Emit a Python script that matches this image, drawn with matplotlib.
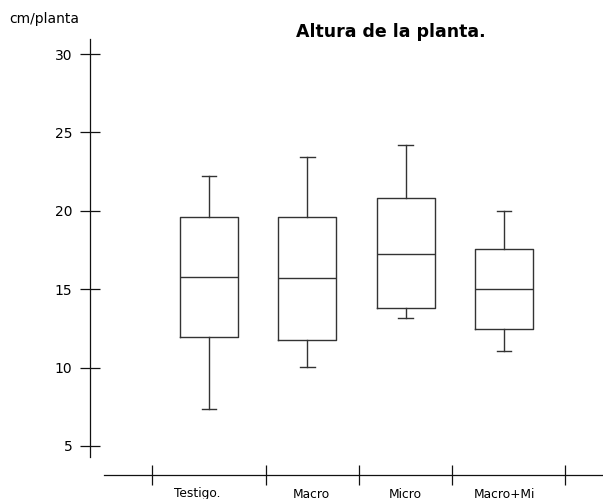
import matplotlib
matplotlib.use("Agg")
import matplotlib.pyplot as plt
import matplotlib.transforms as mtransforms

categories = ["Testigo.", "Macro", "Micro", "Macro+Mi"]
whisker_low = [7.34, 10.06, 13.14, 11.08]
q1 = [11.93, 11.74, 13.80, 12.48]
median = [15.76, 15.70, 17.24, 15.03]
q3 = [19.60, 19.60, 20.82, 17.54]
whisker_high = [22.22, 23.41, 24.20, 19.97]
y_ticks = [5, 10, 15, 20, 25, 30]

W, H = 603, 499
fig = plt.figure(figsize=(W / 100, H / 100), dpi=100)
ax = fig.add_axes([90 / W, 1 - 475 / H, 1 - 90 / W, (475 - 39) / H])

stats = []
for i, c in enumerate(categories):
    stats.append(dict(label=c, whislo=whisker_low[i], q1=q1[i], med=median[i],
                      q3=q3[i], whishi=whisker_high[i], fliers=[]))

lc = "#333333"
lw = 1.0
positions = list(range(1, len(categories) + 1))
ax.bxp(stats, positions=positions, widths=0.587, capwidths=0.15, showfliers=False,
       boxprops=dict(color=lc, linewidth=lw),
       whiskerprops=dict(color=lc, linewidth=lw),
       capprops=dict(color=lc, linewidth=lw),
       medianprops=dict(color=lc, linewidth=lw))

ax.set_xlim(-0.21, 5.007)
ax.set_ylim(3.15, 30.96)

for s in ["top", "right"]:
    ax.spines[s].set_visible(False)
ax.spines["left"].set_bounds(4.30, 30.96)
ax.spines["bottom"].set_bounds(-0.065, 5.007)
for s in ["left", "bottom"]:
    ax.spines[s].set_color("#111111")
    ax.spines[s].set_linewidth(0.9)

ax.set_yticks(y_ticks)
ax.set_yticklabels([str(t) for t in y_ticks])
ax.tick_params(axis="y", direction="inout", length=14.4, width=0.9, color="#111111",
               labelsize=10, pad=5.5)

# category separators on x axis
ax.set_xticks([0.42, 1.577, 2.522, 3.468, 4.624])
ax.set_xticklabels([])
ax.tick_params(axis="x", which="major", direction="inout", length=14.4, width=0.9,
               color="#111111")

label_x = [0.883, 2.037, 2.993, 4.005]
trans = mtransforms.blended_transform_factory(ax.transData, fig.transFigure)
for xp, c in zip(label_x, categories):
    ax.text(xp, 1 - 497.5 / H, c, transform=trans, ha="center", va="baseline",
            fontsize=8.8, clip_on=False)

fig.text(9 / W, 1 - 19 / H, "cm/planta", ha="left", va="center", fontsize=10)
fig.text(391 / W, 1 - 32 / H, "Altura de la planta.", ha="center", va="center",
         fontsize=12.5, fontweight="bold")

fig.savefig("out.png", dpi=100)
